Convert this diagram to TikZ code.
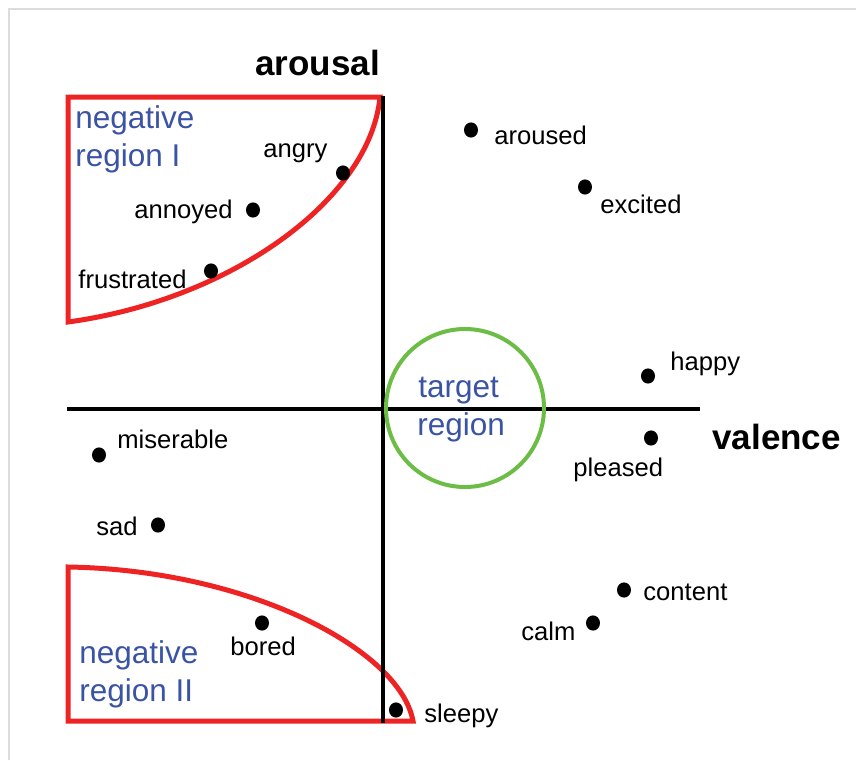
\documentclass[tikz,border=0pt]{standalone}
\usepackage{fontspec}
\setmainfont{Liberation Sans}
\definecolor{regred}{HTML}{EE2424}
\definecolor{tgtgreen}{HTML}{6CBD45}
\definecolor{txtblue}{HTML}{3A53A4}
\definecolor{framegray}{HTML}{DCDCDC}
\tikzset{
  dot/.style={ellipse,fill=black,inner sep=0pt,minimum width=7pt,minimum height=7.6pt},
  lbl/.style={anchor=base west,inner sep=0pt,font=\fontsize{12.8pt}{14pt}\selectfont},
  axlbl/.style={anchor=base west,inner sep=0pt,font=\fontsize{17.5pt}{20pt}\selectfont\bfseries},
  reglbl/.style={anchor=base west,inner sep=0pt,text=txtblue,font=\fontsize{15.75pt}{19pt}\selectfont},
  region/.style={draw=regred,line width=2.5pt,line join=miter},
  axis/.style={draw=black,line width=2pt},
}
\usetikzlibrary{shapes.geometric}
\begin{document}
\begin{tikzpicture}[x=0.5pt,y=-0.5pt]
\useasboundingbox (0,0) rectangle (856,760);
% frame
\draw[framegray,line width=1pt] (9,760) -- (9,9) -- (856,9);
% negative regions
\draw[region] (380,97) -- (68,97) -- (68,322) .. controls (230,300) and (370,200) .. (380,97) -- cycle;
\draw[region] (68,567) .. controls (250,570) and (400,650) .. (413,721) -- (68,721) -- cycle;
% axes
\coordinate (ytop) at (383,96);
\coordinate (ybot) at (383,723);
\coordinate (xl) at (67,409);
\coordinate (xr) at (700,409);
\draw[axis] (ytop) -- (ybot);
\draw[axis] (xl) -- (xr);
% target circle
\node[draw=tgtgreen,line width=2pt,circle,minimum size=79pt,inner sep=0pt] (target) at (465,408) {};
% axis labels
\node[axlbl] (arousal) at (255,75) {arousal};
\node[axlbl] (valence) at (712,449) {valence};
% region labels
\node[reglbl] (neg1a) at (75,128) {negative};
\node[reglbl] (neg1b) at (75,166) {region I};
\node[reglbl] (neg2a) at (79,663) {negative};
\node[reglbl] (neg2b) at (79,701) {region II};
\node[reglbl] (tgta) at (418,397) {target};
\node[reglbl] (tgtb) at (417,435) {region};
% dots
\node[dot] (dangry) at (343,173) {};
\node[dot] (dannoyed) at (253,210) {};
\node[dot] (dfrustrated) at (211,271) {};
\node[dot] (daroused) at (471,130) {};
\node[dot] (dexcited) at (585,187) {};
\node[dot] (dhappy) at (648,376) {};
\node[dot] (dpleased) at (651,438) {};
\node[dot] (dcontent) at (624,590) {};
\node[dot] (dcalm) at (593,623) {};
\node[dot] (dmiserable) at (99,455) {};
\node[dot] (dsad) at (158,525) {};
\node[dot] (dbored) at (262,623) {};
\node[dot] (dsleepy) at (396,710) {};
% labels
\node[lbl] (langry) at (263,157) {angry};
\node[lbl] (lannoyed) at (134,218) {annoyed};
\node[lbl] (lfrustrated) at (78,288) {frustrated};
\node[lbl] (laroused) at (494,144) {aroused};
\node[lbl] (lexcited) at (600,213) {excited};
\node[lbl] (lhappy) at (670,370) {happy};
\node[lbl] (lpleased) at (573,476) {pleased};
\node[lbl] (lcontent) at (643,600) {content};
\node[lbl] (lcalm) at (521,640) {calm};
\node[lbl] (lsleepy) at (424,722) {sleepy};
\node[lbl] (lmiserable) at (117,448) {miserable};
\node[lbl] (lsad) at (96,535) {sad};
\node[lbl] (lbored) at (230,655) {bored};
\end{tikzpicture}
\end{document}
